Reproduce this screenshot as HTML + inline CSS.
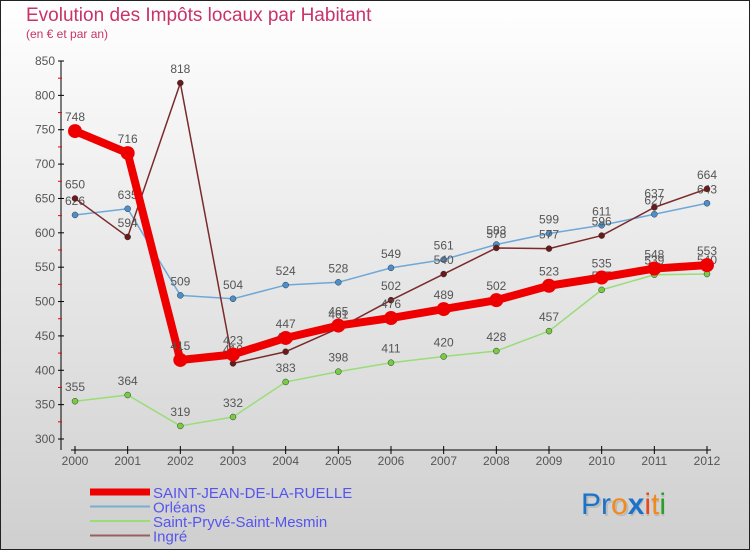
<!DOCTYPE html>
<html><head><meta charset="utf-8"><style>
html,body{margin:0;padding:0}
body{width:750px;height:550px;overflow:hidden;font-family:"Liberation Sans",sans-serif}
</style></head><body>
<svg id="chart" width="750" height="550" xmlns="http://www.w3.org/2000/svg" font-family="Liberation Sans, sans-serif">
<defs><linearGradient id="bg" x1="0" y1="0" x2="0" y2="1"><stop offset="0" stop-color="#ffffff"/><stop offset="1" stop-color="#cfcfcf"/></linearGradient></defs>
<rect x="0.5" y="0.5" width="749" height="549" fill="url(#bg)" stroke="#222" stroke-width="1"/>
<text x="26" y="21" font-size="19" fill="#c8336a">Evolution des Impôts locaux par Habitant</text>
<text x="26" y="38" font-size="12" fill="#c8336a">(en € et par an)</text>
<g id="axes"></g>
<g id="series"></g>
<g id="legend"></g>
<g font-size="30" font-family="Liberation Sans, sans-serif">
<text x="583" y="516" fill="#bbb">Pro<tspan>x</tspan>iti</text>
<text x="581" y="514"><tspan fill="#1a73c8">P</tspan><tspan fill="#1a73c8">r</tspan><tspan fill="#f08a1c">o</tspan><tspan fill="#1a73c8" font-weight="bold">x</tspan><tspan fill="#e64a1c">i</tspan><tspan fill="#f08a1c">t</tspan><tspan fill="#2aa02a">i</tspan></text>
</g>
</svg>
<script>
const years=["2000","2001","2002","2003","2004","2005","2006","2007","2008","2009","2010","2011","2012"];
const yTicks=[300,350,400,450,500,550,600,650,700,750,800,850];
const stJean=[748,716,415,423,447,465,476,489,502,523,535,548,553];
const orleans=[626,635,509,504,524,528,549,561,583,599,611,627,643];
const stPryve=[355,364,319,332,383,398,411,420,428,457,517,539,540];
const ingre=[650,594,818,410,427,461,502,540,578,577,596,637,664];
const NS="http://www.w3.org/2000/svg";
function x(i){return 75+i*(707-75)/12;}
function y(v){return 439-(v-300)*(439-61)/550;}
function mk(tag,attrs,parent){const e=document.createElementNS(NS,tag);for(const k in attrs)e.setAttribute(k,attrs[k]);parent.appendChild(e);return e;}
const axes=document.getElementById('axes');
let a=mk('line',{x1:61,y1:61,x2:61,y2:450,stroke:'#000'},axes);


a=mk('line',{x1:71,y1:450,x2:711,y2:450,stroke:'#000'},axes);


yTicks.forEach(v=>{
  mk('line',{x1:58,y1:y(v),x2:64,y2:y(v),stroke:'#000'},axes);
  if(v<850)mk('line',{x1:58,y1:y(v+25),x2:62,y2:y(v+25),stroke:'#e00'},axes);
  const t=mk('text',{x:55,y:y(v)+4,'text-anchor':'end','font-size':12,fill:'#555'},axes);
  t.textContent=v;
  
  
});
years.forEach((yr,i)=>{
  mk('line',{x1:x(i),y1:446,x2:x(i),y2:454,stroke:'#000'},axes);
  const t=mk('text',{x:x(i),y:465,'text-anchor':'middle','font-size':12,fill:'#555'},axes);
  t.textContent=yr;
  
  
});
const ser=document.getElementById('series');
const defs=[
 {d:stPryve,c:'#99dd77',dot:'#77cc44',w:1.5,r:3,name:'saint-pryve'},
 {d:orleans,c:'#6fa8d8',dot:'#4b90cc',w:1.5,r:3,name:'orleans'},
 {d:ingre,c:'#7a2a2a',dot:'#6a1a1a',w:1.5,r:3,name:'ingre'},
 {d:stJean,c:'#ee0000',dot:'#ee0000',w:8,r:7,name:'saint-jean'}
];
defs.forEach(s=>{
  const g=mk('g',{},ser);
  
  
  const pts=s.d.map((v,i)=>x(i)+','+y(v)).join(' ');
  const p=mk('polyline',{points:pts,fill:'none',stroke:s.c,'stroke-width':s.w,'stroke-linejoin':'round'},g);
  
  
  s.d.forEach((v,i)=>{
    const c=mk('circle',{cx:x(i),cy:y(v),r:s.r,fill:s.dot,stroke:s.w>2?'none':'#333','stroke-width':0.5},g);
    
    
    const t=mk('text',{x:x(i),y:y(v)-10,'text-anchor':'middle','font-size':12,fill:'#555'},g);
    t.textContent=v;
    
    
  });
});
const leg=document.getElementById('legend');
const items=[['SAINT-JEAN-DE-LA-RUELLE','#ee0000',7],['Orléans','#7aaed0',2],['Saint-Pryvé-Saint-Mesmin','#99dd77',2],['Ingré','#9a6060',2]];
items.forEach((it,i)=>{
  const yy=492+i*14.5;
  const g=mk('g',{},leg);
  
  
  mk('line',{x1:90,y1:yy,x2:128+22,y2:yy,stroke:it[1],'stroke-width':it[2]},g);
  const t=mk('text',{x:153,y:yy+6,'font-size':15,fill:'#5555ee'},g);
  t.textContent=it[0];
});
</script>
</body></html>
